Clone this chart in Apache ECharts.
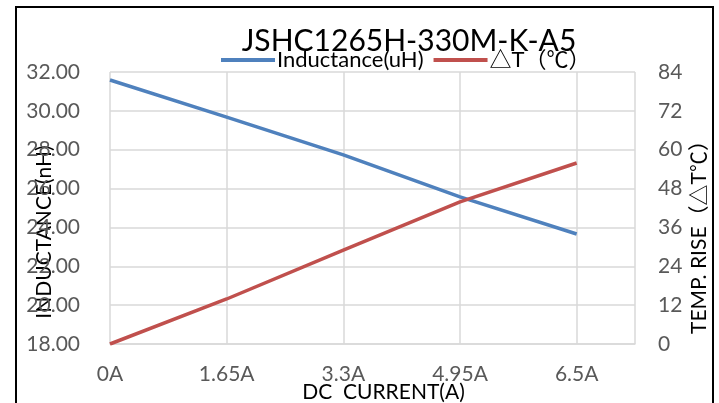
<!DOCTYPE html>
<html>
<head>
<meta charset="utf-8">
<script src="https://cdn.jsdelivr.net/npm/echarts@6/dist/echarts.min.js"></script>
<style>
html,body{margin:0;padding:0;background:#fff;}
#c{width:719px;height:403px;}
</style>
</head>
<body>
<div id="c"></div>
<script>
const titleText = 'JSHC1265H-330M-K-A5';
const categories = ['0A', '1.65A', '3.3A', '4.95A', '6.5A'];
const inductanceName = 'Inductance(uH)';
const tempName = '△T（℃）';
const inductance = [31.59, 29.68, 27.73, 25.57, 23.66];
const tempRise = [0, 13.9, 29.0, 43.9, 55.9];
const leftTicks = { min: 18, max: 32, interval: 2 };
const rightTicks = { min: 0, max: 84, interval: 12 };

const FONT = 'Lato, "Noto Sans CJK SC", sans-serif';
const chart = echarts.init(document.getElementById('c'));
const gridColor = '#d9d9d9';
const labelColor = '#595959';

chart.setOption({
  animation: false,
  textStyle: { fontFamily: FONT },
  graphic: [{
    type: 'rect', shape: { x: 16, y: 7, width: 697, height: 410 },
    style: { fill: 'none', stroke: '#000', lineWidth: 2 }, z: -1
  }],
  title: {
    text: titleText, left: 404, top: 21, textAlign: 'center',
    textStyle: { fontFamily: FONT, fontSize: 30, fontWeight: 'normal', color: '#000' }
  },
  legend: {
    left: 216, top: 44, itemWidth: 54, itemHeight: 4, itemGap: 10,
    icon: 'rect',
    textStyle: { fontFamily: FONT, fontSize: 22, color: '#000', padding: [0, 0, 0, -3] },
    data: [inductanceName, tempName]
  },
  grid: { left: 110, right: 84, top: 72, bottom: 59, outerBoundsMode: 'none', containLabel: false },
  xAxis: {
    type: 'value', min: 0, max: 4.5, interval: 1,
    name: 'DC  CURRENT(A)', nameLocation: 'middle', nameGap: 38, nameMoveOverlap: false,
    nameTextStyle: { fontFamily: FONT, fontSize: 21, color: '#000', padding: [0, 0, 0, 22] },
    axisLine: { show: true, lineStyle: { color: gridColor, width: 1.5 } },
    axisTick: { show: false },
    splitLine: { show: true, lineStyle: { color: gridColor, width: 1.5 } },
    axisLabel: {
      fontFamily: FONT, fontSize: 21, color: labelColor, margin: 20,
      formatter: v => (Number.isInteger(v) && categories[v] !== undefined) ? categories[v] : ''
    }
  },
  yAxis: [{
    type: 'value', min: leftTicks.min, max: leftTicks.max, interval: leftTicks.interval,
    name: 'INDUCTANCE(nH)', nameLocation: 'middle', nameGap: 55, nameRotate: 90, nameMoveOverlap: false,
    nameTextStyle: { fontFamily: FONT, fontSize: 21, color: '#000', padding: [0, 48, 0, 0] },
    axisLine: { show: false }, axisTick: { show: false },
    splitLine: { show: true, lineStyle: { color: gridColor, width: 1.5 } },
    axisLabel: { fontFamily: FONT, fontSize: 21, color: labelColor, margin: 30, formatter: v => v.toFixed(2) }
  }, {
    type: 'value', min: rightTicks.min, max: rightTicks.max, interval: rightTicks.interval,
    name: 'TEMP. RISE（△T℃）', nameLocation: 'middle', nameGap: 54, nameRotate: 90, nameMoveOverlap: false,
    nameTextStyle: { fontFamily: FONT, fontSize: 21, color: '#000', padding: [0, 48, 0, 0] },
    axisLine: { show: false }, axisTick: { show: false },
    splitLine: { show: false },
    axisLabel: { fontFamily: FONT, fontSize: 21, color: labelColor, margin: 23 }
  }],
  series: [{
    name: inductanceName, type: 'line', yAxisIndex: 0,
    data: inductance.map((v, i) => [i, v]),
    symbol: 'none', lineStyle: { color: '#4f81bd', width: 3.5 }, itemStyle: { color: '#4f81bd' }
  }, {
    name: tempName, type: 'line', yAxisIndex: 1,
    data: tempRise.map((v, i) => [i, v]),
    symbol: 'none', lineStyle: { color: '#c0504d', width: 3.5 }, itemStyle: { color: '#c0504d' }
  }]
});
</script>
</body>
</html>
